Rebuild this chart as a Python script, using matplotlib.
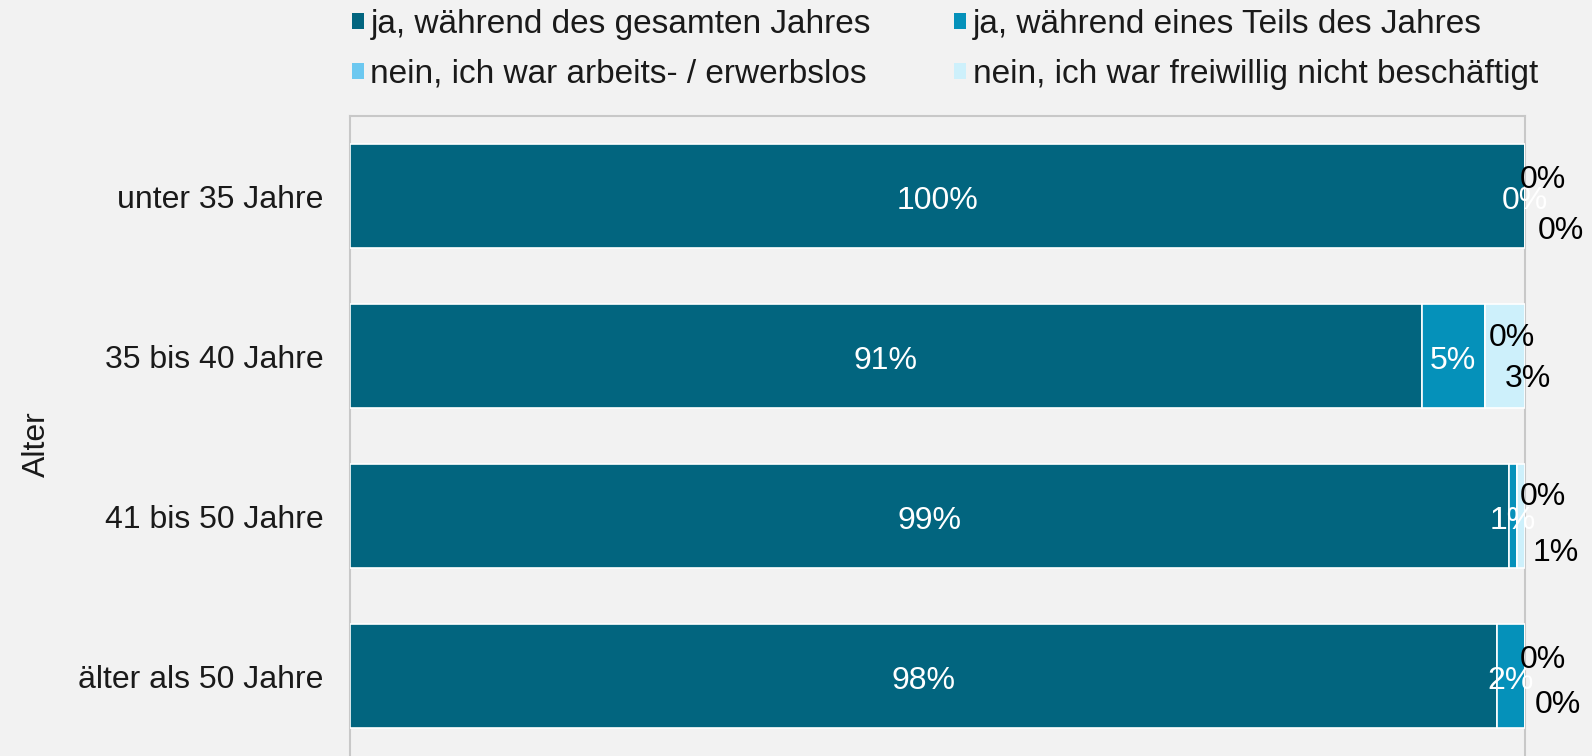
import matplotlib
matplotlib.use("Agg")
import matplotlib.pyplot as plt
from matplotlib.patches import Patch
import numpy as np

categories = ["unter 35 Jahre", "35 bis 40 Jahre", "41 bis 50 Jahre", "älter als 50 Jahre"]
series_names = [
    "ja, während des gesamten Jahres",
    "ja, während eines Teils des Jahres",
    "nein, ich war arbeits- / erwerbslos",
    "nein, ich war freiwillig nicht beschäftigt",
]
ganz_jahr = [100.0, 91.2, 98.6, 97.6]
teil_jahr = [0.0, 5.4, 0.7, 2.4]
arbeitslos = [0.0, 0.0, 0.0, 0.0]
freiwillig = [0.0, 3.4, 0.7, 0.0]
y_label = "Alter"

colors = ["#02657f", "#0591ba", "#6cc8f0", "#cdf0fb"]
BG = "#f2f2f2"
FONT = "Liberation Sans"
FS = 23
FS_LEG = 24

plt.rcParams["font.family"] = [FONT, "DejaVu Sans"]

W, H = 1592, 756
fig = plt.figure(figsize=(W / 100, H / 100), dpi=100, facecolor=BG)
ax_left, ax_right, ax_top, ax_bottom = 350, 1525, 116, 756
ax = fig.add_axes([ax_left / W, 1 - ax_bottom / H, (ax_right - ax_left) / W, (ax_bottom - ax_top) / H])
ax.set_facecolor(BG)

series = [ganz_jahr, teil_jahr, arbeitslos, freiwillig]
y = np.arange(len(categories))
left = np.zeros(len(categories))
bar_h = 0.65
containers = []
for vals, c, name in zip(series, colors, series_names):
    bc = ax.barh(y, vals, left=left, height=bar_h, color=c, edgecolor="white", linewidth=1.2, label=name, zorder=3)
    containers.append((bc, np.array(vals), left.copy()))
    left = left + np.array(vals)

ax.set_xlim(0, 100)
ax.set_ylim(3.5, -0.5)

ax.spines["bottom"].set_visible(False)
for s in ["top", "left", "right"]:
    ax.spines[s].set_color("#c8c8c8")
    ax.spines[s].set_linewidth(1.5)
    ax.spines[s].set_zorder(1)

ax.set_xticks([])
ax.set_yticks(y)
ax.set_yticklabels(categories, fontsize=FS, family=FONT, color="#1a1a1a", va="center_baseline")
ax.tick_params(axis="y", length=0, pad=19)

fig.text(37 / W, 1 - 444 / H, y_label, rotation=90, ha="center", va="center", fontsize=FS, family=FONT, color="#1a1a1a")

# white labels at segment centre for first two series
for k in range(2):
    bc, vals, lefts = containers[k]
    for i in range(len(categories)):
        ax.annotate(f"{vals[i]:.0f}%", xy=(lefts[i] + vals[i] / 2, y[i]), xytext=(0, -5),
                    textcoords="offset pixels", ha="center", va="center",
                    color="white", fontsize=FS, family=FONT, zorder=5, annotation_clip=False)

# black labels offset (pixels) for last two series
off3 = [(18, -16), (27, -18), (26, -19), (18, -16)]
off4 = [(36, 35), (23, 23), (35, 37), (33, 29)]
for k, offs in zip([2, 3], [off3, off4]):
    bc, vals, lefts = containers[k]
    for i in range(len(categories)):
        ax.annotate(f"{vals[i]:.0f}%", xy=(lefts[i] + vals[i] / 2, y[i]), xytext=(offs[i][0], -offs[i][1]),
                    textcoords="offset pixels", ha="center", va="center", color="black",
                    fontsize=FS, family=FONT, zorder=6, annotation_clip=False)

handles = [Patch(facecolor=c, edgecolor="none") for c in colors]
order = [0, 2, 1, 3]
leg = fig.legend([handles[i] for i in order], [series_names[i] for i in order], ncol=2,
                 loc="upper left", bbox_to_anchor=(352 / W, 1 - 9 / H), frameon=False,
                 fontsize=FS_LEG, handlelength=0.35, handleheight=0.35, handletextpad=0.2,
                 columnspacing=2.5, labelspacing=0.56, borderpad=0, borderaxespad=0)
for t in leg.get_texts():
    t.set_color("#1a1a1a")

fig.savefig("out.png", dpi=100, facecolor=BG)
